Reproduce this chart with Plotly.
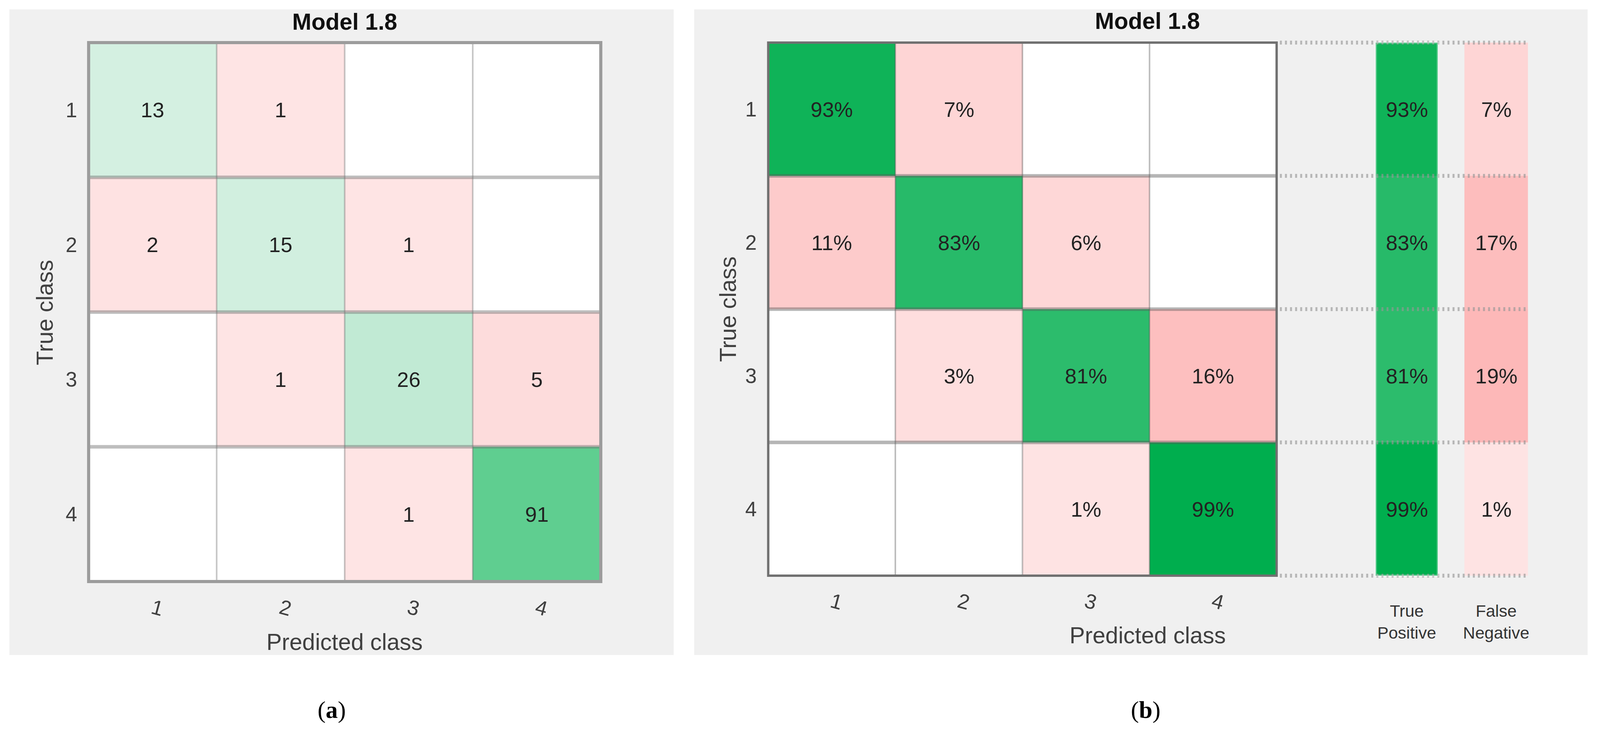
import plotly.graph_objects as go

# ---------------- data ----------------
classes = ["1", "2", "3", "4"]
counts = [[13, 1, 0, 0],
          [2, 15, 1, 0],
          [0, 1, 26, 5],
          [0, 0, 1, 91]]
percents = [[93, 7, 0, 0],
            [11, 83, 6, 0],
            [0, 3, 81, 16],
            [0, 0, 1, 99]]
true_positive = [93, 83, 81, 99]
false_negative = [7, 17, 19, 1]
title_text = "Model 1.8"
x_title = "Predicted class"
y_title = "True class"
tp_label = "True<br>Positive"
fn_label = "False<br>Negative"

# layout is measured in reference-image pixels (4288 x 1873) and mapped onto the
# actual browser viewport (4096 px wide, 8 px default body margin)
REF_W, REF_H = 4288, 1873
VIEW_W = 4096
MARGIN = 8
SX = VIEW_W / REF_W
FW, FH = VIEW_W - 2 * MARGIN, REF_H - 2 * MARGIN
FS = 0.97  # font scale
FONT = "Liberation Sans, Arial, Helvetica, sans-serif"


def px(x):
    return (x * SX - MARGIN) / FW


def py(y):
    return 1 - (y - MARGIN) / FH


def split(mat, fmt):
    n = len(mat)
    zd = [[None] * n for _ in range(n)]
    zo = [[None] * n for _ in range(n)]
    td = [[""] * n for _ in range(n)]
    to = [[""] * n for _ in range(n)]
    for i in range(n):
        for j in range(n):
            v = mat[i][j]
            if v == 0:
                continue
            if i == j:
                zd[i][j] = v
                td[i][j] = fmt(v)
            else:
                zo[i][j] = v
                to[i][j] = fmt(v)
    return zd, zo, td, to


fig = go.Figure()

cell_font = dict(family=FONT, size=round(56 * FS), color="#222222")
white_scale = [[0, "#ffffff"], [1, "#ffffff"]]
base_z = [[0 for _ in classes] for _ in classes]

# ---------- left panel: counts ----------
fig.add_trace(go.Heatmap(z=base_z, x=classes, y=classes, colorscale=white_scale, showscale=False,
                         hoverinfo="skip", xaxis="x", yaxis="y"))
zd, zo, td, to = split(counts, lambda v: str(v))
fig.add_trace(go.Heatmap(z=zd, x=classes, y=classes, text=td, texttemplate="%{text}",
                         textfont=cell_font, colorscale=[[0, "#d4f0e1"], [1, "#5fce90"]],
                         showscale=False, hoverinfo="skip", xaxis="x", yaxis="y"))
fig.add_trace(go.Heatmap(z=zo, x=classes, y=classes, text=to, texttemplate="%{text}",
                         textfont=cell_font, colorscale=[[0, "#fee4e4"], [1, "#fddcdc"]],
                         showscale=False, hoverinfo="skip", xaxis="x", yaxis="y"))

# ---------- right panel: row percentages ----------
fig.add_trace(go.Heatmap(z=base_z, x=classes, y=classes, colorscale=white_scale, showscale=False,
                         hoverinfo="skip", xaxis="x2", yaxis="y2"))
zd2, zo2, td2, to2 = split(percents, lambda v: f"{v}%")
green_vals = [percents[i][i] for i in range(4)] + true_positive
red_vals = [percents[i][j] for i in range(4) for j in range(4) if i != j and percents[i][j]] + false_negative
gmin, gmax = min(green_vals), max(green_vals)
rmin, rmax = min(red_vals), max(red_vals)
green_scale = [[0, "#2cbc6c"], [1, "#00ae4e"]]
red_scale = [[0, "#fee3e3"], [1, "#fdb8b8"]]

fig.add_trace(go.Heatmap(z=zd2, x=classes, y=classes, text=td2, texttemplate="%{text}",
                         textfont=cell_font, colorscale=green_scale, zmin=gmin, zmax=gmax,
                         showscale=False, hoverinfo="skip", xaxis="x2", yaxis="y2"))
fig.add_trace(go.Heatmap(z=zo2, x=classes, y=classes, text=to2, texttemplate="%{text}",
                         textfont=cell_font, colorscale=red_scale, zmin=rmin, zmax=rmax,
                         showscale=False, hoverinfo="skip", xaxis="x2", yaxis="y2"))
fig.add_trace(go.Heatmap(z=[[v] for v in true_positive], x=["TP"], y=classes,
                         text=[[f"{v}%"] for v in true_positive], texttemplate="%{text}",
                         textfont=cell_font, colorscale=green_scale, zmin=gmin, zmax=gmax,
                         showscale=False, hoverinfo="skip", xaxis="x3", yaxis="y2"))
fig.add_trace(go.Heatmap(z=[[v] for v in false_negative], x=["FN"], y=classes,
                         text=[[f"{v}%"] for v in false_negative], texttemplate="%{text}",
                         textfont=cell_font, colorscale=red_scale, zmin=rmin, zmax=rmax,
                         showscale=False, hoverinfo="skip", xaxis="x4", yaxis="y2"))

tick_font = dict(family=FONT, size=round(55 * FS), color="#404040")
small_font = dict(family=FONT, size=round(44 * FS), color="#333333")
common = dict(type="category", ticks="", showgrid=False, zeroline=False, showline=False,
              fixedrange=True)

L_X0, L_X1, L_Y0, L_Y1 = 230, 1614, 105, 1492
R_X0, R_X1, R_Y0, R_Y1 = 2054, 3428, 104, 1478
TP_X0, TP_X1 = 3686, 3859
FN_X0, FN_X1 = 3927, 4098

fig.update_layout(
    xaxis=dict(domain=[px(L_X0), px(L_X1)], anchor="y", tickangle=15,
               ticklabelstandoff=24, tickfont=tick_font, **common),
    yaxis=dict(domain=[py(L_Y1), py(L_Y0)], anchor="x", autorange="reversed",
               ticklabelstandoff=24, tickfont=tick_font, **common),
    xaxis2=dict(domain=[px(R_X0), px(R_X1)], anchor="y2", tickangle=15,
                ticklabelstandoff=22, tickfont=tick_font, **common),
    yaxis2=dict(domain=[py(R_Y1), py(R_Y0)], anchor="x2", autorange="reversed",
                ticklabelstandoff=24, tickfont=tick_font, **common),
    xaxis3=dict(domain=[px(TP_X0), px(TP_X1)], anchor="y2", tickvals=["TP"], ticktext=[tp_label],
                ticklabelstandoff=56, tickfont=small_font, **common),
    xaxis4=dict(domain=[px(FN_X0), px(FN_X1)], anchor="y2", tickvals=["FN"], ticktext=[fn_label],
                ticklabelstandoff=56, tickfont=small_font, **common),
)

shapes = []
shapes.append(dict(type="rect", xref="paper", yref="paper", x0=px(22), x1=px(1805),
                   y0=py(1676), y1=py(24), fillcolor="#f0f0f0", line=dict(width=0), layer="below"))
shapes.append(dict(type="rect", xref="paper", yref="paper", x0=px(1860), x1=px(4258),
                   y0=py(1676), y1=py(24), fillcolor="#f0f0f0", line=dict(width=0), layer="below"))

n = len(classes)
for ax, ay, hcol, vcol, bcol, bw in [("x", "y", "rgba(110,110,110,0.45)", "rgba(110,110,110,0.40)", "#9c9c9c", 8),
                                     ("x2", "y2", "rgba(90,90,90,0.45)", "rgba(90,90,90,0.40)", "#707070", 6)]:
    for k in range(1, n):
        shapes.append(dict(type="line", xref=ax, yref=ay, x0=-0.5, x1=n - 0.5, y0=k - 0.5, y1=k - 0.5,
                           line=dict(color=hcol, width=9)))
        shapes.append(dict(type="line", xref=ax, yref=ay, x0=k - 0.5, x1=k - 0.5, y0=-0.5, y1=n - 0.5,
                           line=dict(color=vcol, width=4)))
    shapes.append(dict(type="rect", xref=ax, yref=ay, x0=-0.5, x1=n - 0.5, y0=-0.5, y1=n - 0.5,
                       line=dict(color=bcol, width=bw)))

for k in range(0, n + 1):
    shapes.append(dict(type="line", xref="paper", yref="y2", x0=px(3432), x1=px(FN_X1),
                       y0=k - 0.5, y1=k - 0.5,
                       line=dict(color="rgba(150,150,150,0.65)", width=10, dash="5px,8px")))
shapes.append(dict(type="rect", xref="x3", yref="y2", x0=-0.5, x1=0.5, y0=-0.5, y1=n - 0.5,
                   line=dict(color="rgba(255,255,255,0.3)", width=6)))

annotations = []
title_font = dict(family=FONT, size=round(61 * FS), color="#111111")
axis_font = dict(family=FONT, size=round(61 * FS), color="#404040")
cap_font = dict(family="Liberation Serif, Times New Roman, serif", size=round(64 * FS), color="#000000")


def note(text, x, y, font, angle=0):
    annotations.append(dict(text=text, x=px(x), y=py(y), xref="paper", yref="paper",
                            showarrow=False, font=font, xanchor="center", yanchor="middle",
                            textangle=angle))


note(f"<b>{title_text}</b>", 922, 56, title_font)
note(f"<b>{title_text}</b>", 3077, 54, title_font)
note(x_title, 922, 1643, axis_font)
note(x_title, 3077, 1626, axis_font)
note(y_title, 117, 800, axis_font, -90)
note(y_title, 1951, 791, axis_font, -90)
note("(<b>a</b>)", 887, 1816, cap_font)
note("(<b>b</b>)", 3072, 1816, cap_font)

fig.update_layout(width=FW, height=FH, margin=dict(l=0, r=0, t=0, b=0),
                  paper_bgcolor="#ffffff", plot_bgcolor="#ffffff",
                  shapes=shapes, annotations=annotations, showlegend=False)

fig.write_html("out.html", config={"displayModeBar": False})
